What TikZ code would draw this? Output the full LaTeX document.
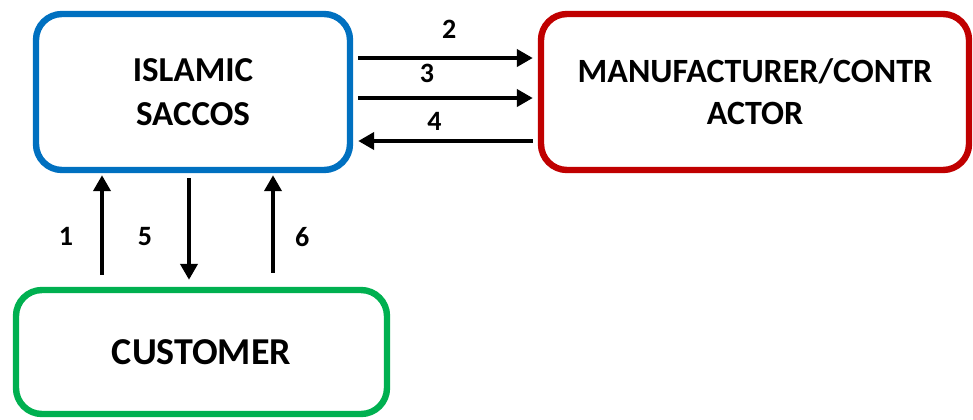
\documentclass[tikz,border=0pt]{standalone}
\usepackage{fontspec}
\setmainfont{Carlito}
\usetikzlibrary{arrows.meta}

\definecolor{saccosblue}{HTML}{0070C0}
\definecolor{makerred}{HTML}{C00000}
\definecolor{clientgreen}{HTML}{00B050}

\begin{document}
\begin{tikzpicture}[
  x=0.5pt,y=-0.5pt,
  party/.style={draw,line width=3.2pt,rounded corners=13pt,align=center,inner sep=0pt,
    font=\bfseries\fontsize{17.5}{22}\selectfont},
  flow/.style={-{Triangle[length=8pt,width=8.5pt]},line width=2pt},
  num/.style={font=\bfseries\fontsize{14}{16}\selectfont,inner sep=0pt}]
\useasboundingbox (0,0) rectangle (973,419);
\node[party,draw=saccosblue,minimum width=157pt,minimum height=78pt] (saccos) at (193,92) {ISLAMIC\\SACCOS};
\node[party,draw=makerred,minimum width=214pt,minimum height=78pt,font=\bfseries\fontsize{17}{21}\selectfont] (maker) at (755,92) {MANUFACTURER/CONTR\\ACTOR};
\node[party,draw=clientgreen,minimum width=185.5pt,minimum height=62pt,font=\bfseries\fontsize{19}{22}\selectfont] (customer) at (201.5,352) {CUSTOMER};
\foreach \a/\b/\dy/\lbl/\at/\rise in {saccos.east/maker.west/17pt/2/0.52/9pt,
    saccos.east/maker.west/-3pt/3/0.40/6.5pt,
    maker.west/saccos.east/-24.5pt/4/0.56/4.5pt}
  \draw[flow,shorten <=2.5pt,shorten >=2.5pt] ([yshift=\dy]\a) -- ([yshift=\dy]\b)
    node[num,pos=\at,above=\rise] {\lbl};
\foreach \dx/\lbl in {-45.5pt/1,-2pt/5,40pt/6}
  \coordinate (port\lbl) at ([xshift=\dx]saccos.south);
\draw[flow,shorten <=6pt,shorten >=1pt] (port1 |- customer.north) -- (port1)
  node[num,pos=0.44,left=13.5pt] {1};
\draw[flow,shorten <=2.5pt,shorten >=3.5pt] (port5) -- (port5 |- customer.north)
  node[num,pos=0.56,left=17.5pt] {5};
\draw[flow,shorten <=7pt,shorten >=1pt] (port6 |- customer.north) -- (port6)
  node[num,pos=0.44,right=10pt] {6};
\end{tikzpicture}
\end{document}
